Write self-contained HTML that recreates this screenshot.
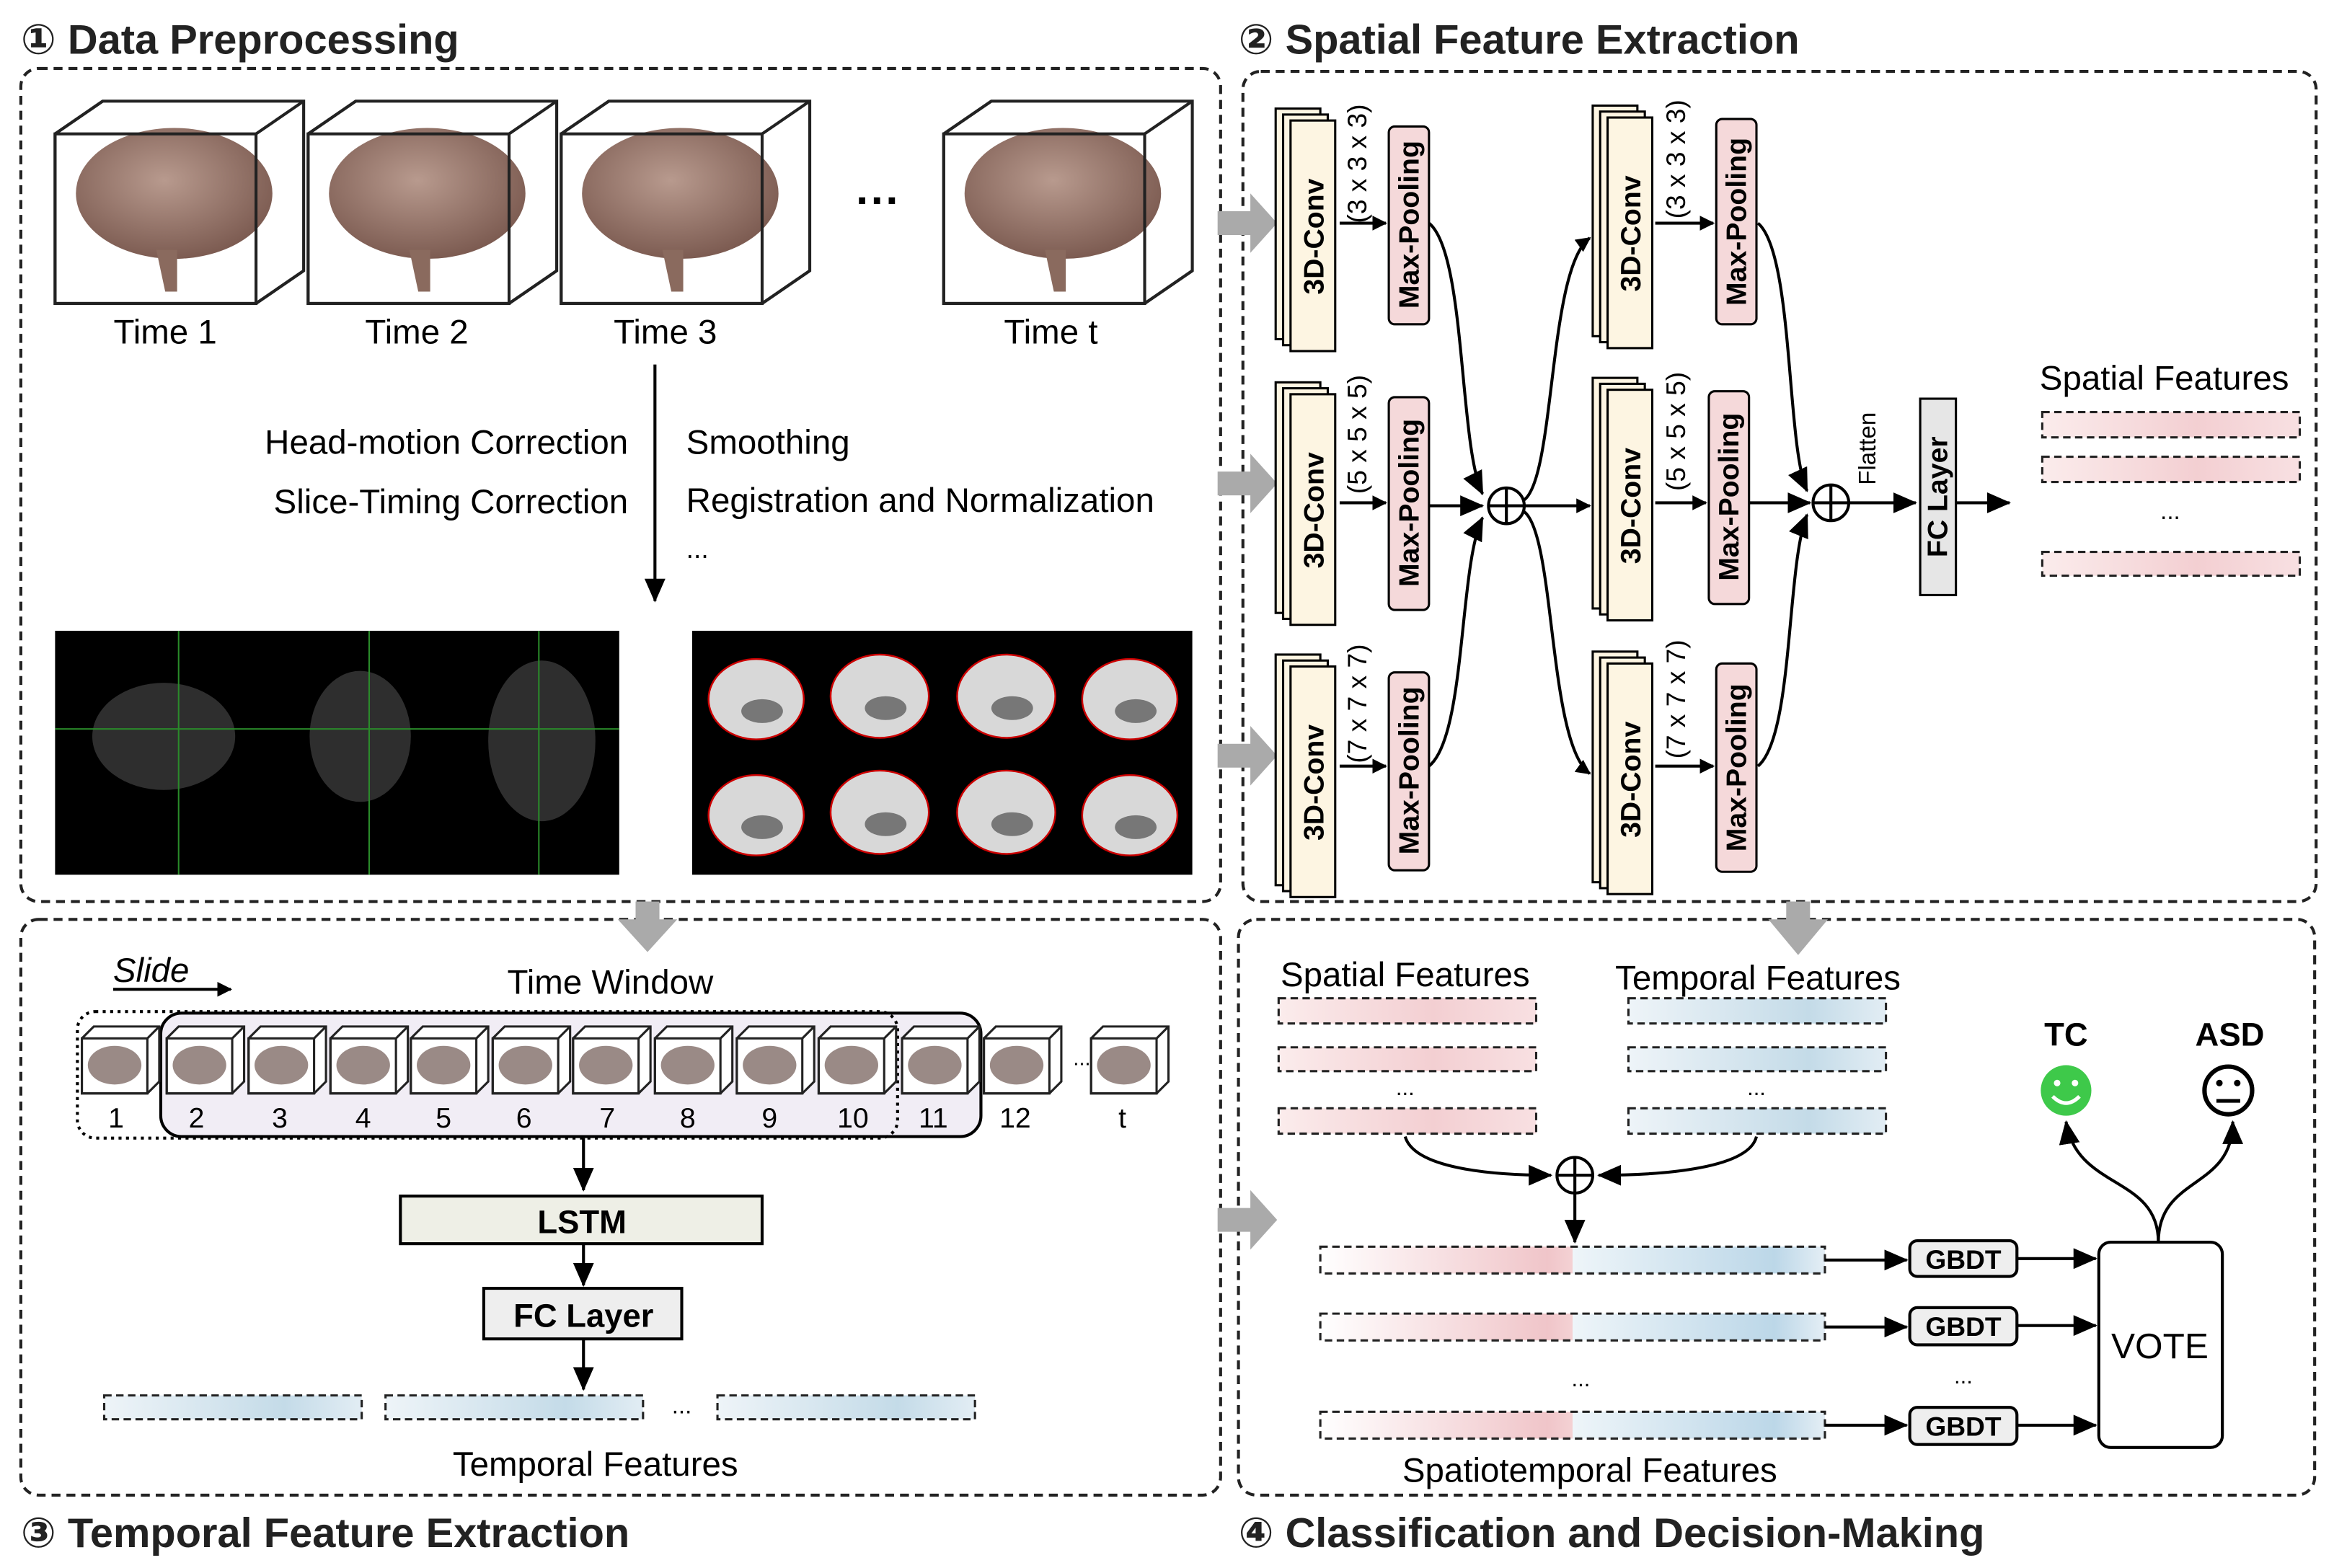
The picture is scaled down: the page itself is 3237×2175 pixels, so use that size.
<!DOCTYPE html>
<html><head><meta charset="utf-8"><style>html,body{margin:0;padding:0;background:#fff}svg{display:block}</style></head><body>
<svg width="3237" height="2175" viewBox="0 0 1568 1054" preserveAspectRatio="none" xmlns="http://www.w3.org/2000/svg" font-family="'Liberation Sans', 'DejaVu Sans', sans-serif">
<defs>
<marker id="ah" markerWidth="10" markerHeight="10" refX="9" refY="5" orient="auto" markerUnits="userSpaceOnUse"><path d="M0,0 L10,5 L0,10 z" fill="#000"/></marker>
<marker id="ab" markerWidth="16" markerHeight="14" refX="15" refY="7" orient="auto" markerUnits="userSpaceOnUse"><path d="M0,0 L16,7 L0,14 z" fill="#000"/></marker>
<linearGradient id="gp" x1="0" x2="1"><stop offset="0" stop-color="#fbecec"/><stop offset="0.6" stop-color="#f3cfd2"/><stop offset="1" stop-color="#f8e0e2"/></linearGradient>
<linearGradient id="gb" x1="0" x2="1"><stop offset="0" stop-color="#eef4f8"/><stop offset="0.7" stop-color="#c4dbe8"/><stop offset="1" stop-color="#e2edf4"/></linearGradient>
<linearGradient id="gc" x1="0" x2="1"><stop offset="0" stop-color="#fff"/><stop offset="0.45" stop-color="#f0c5c9"/><stop offset="0.5" stop-color="#f4d2d4"/><stop offset="0.5" stop-color="#eef5f9"/><stop offset="0.9" stop-color="#bcd7e8"/><stop offset="1" stop-color="#e4eef5"/></linearGradient>
<radialGradient id="br" cx="0.45" cy="0.4" r="0.6"><stop offset="0" stop-color="#b89a8e"/><stop offset="1" stop-color="#7d5c52"/></radialGradient>
<g id="cube"><path d="M0,22 L32,0 L167,0 L167,114 L135,136 L0,136 Z" fill="#fff" stroke="#222" stroke-width="2"/>
<ellipse cx="80" cy="62" rx="66" ry="44" fill="url(#br)"/><path d="M68,100 L74,128 L82,128 L82,100Z" fill="#8a6a5e"/>
<rect x="0" y="22" width="135" height="114" fill="none" stroke="#222" stroke-width="2"/>
<path d="M135,22 L167,0 M135,136 L167,114 M0,22 L32,0" stroke="#222" stroke-width="2"/></g>
<g id="sc"><path d="M0,8 L8,0 L52,0 L52,37 L44,45 L0,45Z" fill="#fff" stroke="#222" stroke-width="1.5"/>
<ellipse cx="22" cy="26" rx="18" ry="13" fill="#9a8a86"/><rect x="0" y="8" width="44" height="37" fill="none" stroke="#222" stroke-width="1.5"/><path d="M44,8 L52,0" stroke="#222" stroke-width="1.5"/></g>
<g id="conv"><rect x="0" y="0" width="30" height="155" fill="#fdf5e2" stroke="#000" stroke-width="1.5"/><rect x="5" y="4" width="30" height="155" fill="#fdf5e2" stroke="#000" stroke-width="1.5"/><rect x="10" y="8" width="30" height="155" fill="#fdf5e2" stroke="#000" stroke-width="1.5"/><text transform="translate(32,86) rotate(-90)" text-anchor="middle" font-size="19" font-weight="bold">3D-Conv</text></g>
</defs>
<g font-size="28" font-weight="bold" fill="#222">
<text x="14" y="36">① Data Preprocessing</text><text x="832" y="36">② Spatial Feature Extraction</text>
<text x="14" y="1040">③ Temporal Feature Extraction</text><text x="832" y="1040">④ Classification and Decision-Making</text></g>
<g fill="none" stroke="#222" stroke-width="2" stroke-dasharray="6,4">
<rect x="14" y="46" width="806" height="560" rx="12"/><rect x="835" y="48" width="721" height="558" rx="12"/>
<rect x="14" y="618" width="806" height="387" rx="12"/><rect x="832" y="618" width="723" height="387" rx="12"/></g>
<!-- panel1 -->
<use href="#cube" x="37" y="68"/><use href="#cube" x="207" y="68"/><use href="#cube" x="377" y="68"/><use href="#cube" x="634" y="68"/>
<text x="590" y="145" font-size="30" font-weight="bold" text-anchor="middle">···</text>
<g font-size="23" text-anchor="middle"><text x="111" y="231">Time 1</text><text x="280" y="231">Time 2</text><text x="447" y="231">Time 3</text><text x="706" y="231">Time t</text></g>
<line x1="440" y1="245" x2="440" y2="404" stroke="#000" stroke-width="2" marker-end="url(#ab)"/>
<g font-size="23"><text x="422" y="305" text-anchor="end">Head-motion Correction</text><text x="422" y="345" text-anchor="end">Slice-Timing Correction</text>
<text x="461" y="305">Smoothing</text><text x="461" y="344">Registration and Normalization</text><text x="461" y="375" font-size="18">...</text></g>
<rect x="37" y="424" width="379" height="164" fill="#000"/>
<g fill="#2e2e2e"><ellipse cx="110" cy="495" rx="48" ry="36"/><ellipse cx="242" cy="495" rx="34" ry="44"/><ellipse cx="364" cy="498" rx="36" ry="54"/></g>
<g stroke="#2a8a2a" stroke-width="1"><line x1="37" y1="490" x2="416" y2="490"/><line x1="120" y1="424" x2="120" y2="588"/><line x1="248" y1="424" x2="248" y2="588"/><line x1="362" y1="424" x2="362" y2="588"/></g>
<rect x="465" y="424" width="336" height="164" fill="#000"/>
<g fill="#d8d8d8" stroke="#c00" stroke-width="1.2"><ellipse cx="508" cy="470" rx="32" ry="27"/><ellipse cx="591" cy="468" rx="33" ry="28"/><ellipse cx="676" cy="468" rx="33" ry="28"/><ellipse cx="759" cy="470" rx="32" ry="27"/>
<ellipse cx="508" cy="548" rx="32" ry="27"/><ellipse cx="591" cy="546" rx="33" ry="28"/><ellipse cx="676" cy="546" rx="33" ry="28"/><ellipse cx="759" cy="548" rx="32" ry="27"/></g>
<g fill="#777"><ellipse cx="512" cy="478" rx="14" ry="8"/><ellipse cx="595" cy="476" rx="14" ry="8"/><ellipse cx="680" cy="476" rx="14" ry="8"/><ellipse cx="763" cy="478" rx="14" ry="8"/>
<ellipse cx="512" cy="556" rx="14" ry="8"/><ellipse cx="595" cy="554" rx="14" ry="8"/><ellipse cx="680" cy="554" rx="14" ry="8"/><ellipse cx="763" cy="556" rx="14" ry="8"/></g>
<!-- gray arrows -->
<g fill="#aaa"><path d="M818,142 h22 v-12 l18,20 l-18,20 v-12 h-22z"/><path d="M818,317 h22 v-12 l18,20 l-18,20 v-12 h-22z"/><path d="M818,500 h22 v-12 l18,20 l-18,20 v-12 h-22z"/><path d="M818,812 h22 v-12 l18,20 l-18,20 v-12 h-22z"/>
<path d="M427,606 v12 h-12 l20,22 l20,-22 h-12 v-12z"/><path d="M1200,606 v12 h-12 l20,24 l20,-24 h-12 v-12z"/></g>
<!-- panel2 -->
<use href="#conv" x="857" y="73"/><use href="#conv" x="857" y="257"/><use href="#conv" x="857" y="440"/>
<use href="#conv" x="1070" y="71"/><use href="#conv" x="1070" y="254"/><use href="#conv" x="1070" y="438"/>
<g font-size="18"><text transform="translate(918,150) rotate(-90)">(3 x 3 x 3)</text><text transform="translate(918,332) rotate(-90)">(5 x 5 x 5)</text><text transform="translate(918,513) rotate(-90)">(7 x 7 x 7)</text>
<text transform="translate(1132,147) rotate(-90)">(3 x 3 x 3)</text><text transform="translate(1132,330) rotate(-90)">(5 x 5 x 5)</text><text transform="translate(1132,510) rotate(-90)">(7 x 7 x 7)</text></g>
<g fill="#f5d9da" stroke="#000" stroke-width="1.5"><rect x="933" y="85" width="27" height="133" rx="4"/><rect x="933" y="267" width="27" height="143" rx="4"/><rect x="933" y="452" width="27" height="133" rx="4"/>
<rect x="1153" y="80" width="27" height="138" rx="4"/><rect x="1148" y="263" width="27" height="143" rx="4"/><rect x="1153" y="446" width="27" height="140" rx="4"/></g>
<g font-size="19" font-weight="bold" text-anchor="middle"><text transform="translate(953,151) rotate(-90)">Max-Pooling</text><text transform="translate(953,338) rotate(-90)">Max-Pooling</text><text transform="translate(953,518) rotate(-90)">Max-Pooling</text>
<text transform="translate(1173,149) rotate(-90)">Max-Pooling</text><text transform="translate(1168,334) rotate(-90)">Max-Pooling</text><text transform="translate(1173,516) rotate(-90)">Max-Pooling</text></g>
<g stroke="#000" stroke-width="2" fill="none">
<line x1="900" y1="150" x2="931" y2="150" marker-end="url(#ah)"/><line x1="900" y1="338" x2="931" y2="338" marker-end="url(#ah)"/><line x1="900" y1="515" x2="931" y2="515" marker-end="url(#ah)"/>
<line x1="1112" y1="150" x2="1151" y2="150" marker-end="url(#ah)"/><line x1="1112" y1="338" x2="1146" y2="338" marker-end="url(#ah)"/><line x1="1112" y1="515" x2="1151" y2="515" marker-end="url(#ah)"/>
<path d="M960,150 C985,170 980,300 996,332" marker-end="url(#ab)"/><line x1="960" y1="340" x2="996" y2="340" marker-end="url(#ab)"/><path d="M960,515 C985,495 980,380 996,348" marker-end="url(#ab)"/>
<circle cx="1012" cy="340" r="12"/><line x1="1000" y1="340" x2="1024" y2="340"/><line x1="1012" y1="328" x2="1012" y2="352"/>
<line x1="1024" y1="340" x2="1068" y2="340" marker-end="url(#ah)"/>
<path d="M1024,336 C1045,320 1040,180 1068,160" marker-end="url(#ah)"/><path d="M1024,344 C1045,360 1040,500 1068,520" marker-end="url(#ah)"/>
<path d="M1181,150 C1205,170 1200,300 1214,330" marker-end="url(#ab)"/><line x1="1175" y1="338" x2="1216" y2="338" marker-end="url(#ab)"/><path d="M1181,515 C1205,495 1200,380 1214,346" marker-end="url(#ab)"/>
<circle cx="1230" cy="338" r="12"/><line x1="1218" y1="338" x2="1242" y2="338"/><line x1="1230" y1="326" x2="1230" y2="350"/>
<line x1="1242" y1="338" x2="1287" y2="338" marker-end="url(#ab)"/><line x1="1314" y1="338" x2="1350" y2="338" marker-end="url(#ab)"/></g>
<text transform="translate(1260,326) rotate(-90)" font-size="16">Flatten</text>
<rect x="1290" y="268" width="24" height="132" fill="#e6e6e6" stroke="#000" stroke-width="1.5"/>
<text transform="translate(1308,334) rotate(-90)" text-anchor="middle" font-size="19" font-weight="bold">FC  Layer</text>
<text x="1454" y="262" font-size="23" text-anchor="middle">Spatial Features</text>
<g stroke="#222" stroke-width="1.5" stroke-dasharray="5,3"><rect x="1372" y="277" width="173" height="17" fill="url(#gp)"/><rect x="1372" y="307" width="173" height="17" fill="url(#gp)"/><rect x="1372" y="371" width="173" height="16" fill="url(#gp)"/></g>
<text x="1458" y="349" font-size="16" text-anchor="middle">...</text>
<!-- panel3 -->
<rect x="108" y="681" width="551" height="83" rx="14" fill="#f1edf5" stroke="#000" stroke-width="2"/>
<rect x="52" y="680" width="551" height="85" rx="12" fill="none" stroke="#000" stroke-width="2" stroke-dasharray="2,3"/>
<text x="76" y="660" font-size="23" font-style="italic">Slide</text><line x1="76" y1="665" x2="155" y2="665" stroke="#000" stroke-width="2" marker-end="url(#ah)"/>
<text x="410" y="668" font-size="23" text-anchor="middle">Time Window</text>
<g><use href="#sc" x="55" y="690"/><use href="#sc" x="112" y="690"/><use href="#sc" x="167" y="690"/><use href="#sc" x="222" y="690"/><use href="#sc" x="276" y="690"/><use href="#sc" x="331" y="690"/><use href="#sc" x="385" y="690"/><use href="#sc" x="440" y="690"/><use href="#sc" x="495" y="690"/><use href="#sc" x="550" y="690"/><use href="#sc" x="606" y="690"/><use href="#sc" x="661" y="690"/><use href="#sc" x="733" y="690"/></g>
<text x="721" y="716" font-size="14">...</text>
<g font-size="19" text-anchor="middle"><text x="78" y="758">1</text><text x="132" y="758">2</text><text x="188" y="758">3</text><text x="244" y="758">4</text><text x="298" y="758">5</text><text x="352" y="758">6</text><text x="408" y="758">7</text><text x="462" y="758">8</text><text x="517" y="758">9</text><text x="573" y="758">10</text><text x="627" y="758">11</text><text x="682" y="758">12</text><text x="754" y="758">t</text></g>
<g stroke="#000" stroke-width="2"><line x1="392" y1="765" x2="392" y2="800" marker-end="url(#ab)"/><line x1="392" y1="836" x2="392" y2="864" marker-end="url(#ab)"/><line x1="392" y1="900" x2="392" y2="934" marker-end="url(#ab)"/></g>
<rect x="269" y="804" width="243" height="32" fill="#eeefe6" stroke="#000" stroke-width="2"/><text x="391" y="829" font-size="22" font-weight="bold" text-anchor="middle">LSTM</text>
<rect x="325" y="866" width="133" height="34" fill="#eeeeee" stroke="#000" stroke-width="2"/><text x="392" y="892" font-size="22" font-weight="bold" text-anchor="middle">FC  Layer</text>
<g stroke="#222" stroke-width="1.5" stroke-dasharray="5,3" fill="url(#gb)"><rect x="70" y="938" width="173" height="16"/><rect x="259" y="938" width="173" height="16"/><rect x="482" y="938" width="173" height="16"/></g>
<text x="458" y="950" font-size="16" text-anchor="middle">...</text>
<text x="400" y="992" font-size="23" text-anchor="middle">Temporal Features</text>
<!-- panel4 -->
<g font-size="23" text-anchor="middle"><text x="944" y="663">Spatial Features</text><text x="1181" y="665">Temporal Features</text><text x="1068" y="996">Spatiotemporal Features</text></g>
<g stroke="#222" stroke-width="1.5" stroke-dasharray="5,3"><rect x="859" y="671" width="173" height="17" fill="url(#gp)"/><rect x="859" y="704" width="173" height="16" fill="url(#gp)"/><rect x="859" y="745" width="173" height="17" fill="url(#gp)"/>
<rect x="1094" y="671" width="173" height="17" fill="url(#gb)"/><rect x="1094" y="704" width="173" height="16" fill="url(#gb)"/><rect x="1094" y="745" width="173" height="17" fill="url(#gb)"/>
<rect x="887" y="838" width="339" height="18" fill="url(#gc)"/><rect x="887" y="883" width="339" height="18" fill="url(#gc)"/><rect x="887" y="949" width="339" height="18" fill="url(#gc)"/></g>
<g font-size="15" text-anchor="middle"><text x="944" y="736">...</text><text x="1180" y="736">...</text><text x="1062" y="932">...</text><text x="1319" y="930">...</text></g>
<g stroke="#000" stroke-width="2" fill="none">
<path d="M944,764 C950,785 1000,790 1042,790" marker-end="url(#ab)"/><path d="M1180,764 C1175,785 1120,790 1074,790" marker-end="url(#ab)"/>
<circle cx="1058" cy="790" r="12"/><line x1="1046" y1="790" x2="1070" y2="790"/><line x1="1058" y1="778" x2="1058" y2="802"/>
<line x1="1058" y1="802" x2="1058" y2="835" marker-end="url(#ab)"/>
<line x1="1226" y1="847" x2="1281" y2="847" marker-end="url(#ab)"/><line x1="1226" y1="892" x2="1281" y2="892" marker-end="url(#ab)"/><line x1="1226" y1="958" x2="1281" y2="958" marker-end="url(#ab)"/>
<line x1="1355" y1="846" x2="1408" y2="846" marker-end="url(#ab)"/><line x1="1355" y1="891" x2="1408" y2="891" marker-end="url(#ab)"/><line x1="1355" y1="958" x2="1408" y2="958" marker-end="url(#ab)"/>
<path d="M1450,835 C1450,790 1395,800 1388,754" marker-end="url(#ab)"/><path d="M1450,835 C1450,790 1500,800 1500,754" marker-end="url(#ab)"/></g>
<g fill="#eee" stroke="#000" stroke-width="2"><rect x="1283" y="834" width="72" height="24" rx="5"/><rect x="1283" y="879" width="72" height="25" rx="5"/><rect x="1283" y="946" width="72" height="25" rx="5"/></g>
<g font-size="18" font-weight="bold" text-anchor="middle"><text x="1319" y="853">GBDT</text><text x="1319" y="898">GBDT</text><text x="1319" y="965">GBDT</text></g>
<rect x="1410" y="835" width="83" height="138" rx="8" fill="#fff" stroke="#000" stroke-width="2"/>
<text x="1451" y="913" font-size="24" text-anchor="middle">VOTE</text>
<g font-size="22" font-weight="bold" text-anchor="middle"><text x="1388" y="703">TC</text><text x="1498" y="703">ASD</text></g>
<circle cx="1388" cy="733" r="17" fill="#3ec94a"/><circle cx="1382" cy="728" r="2.2" fill="#fff"/><circle cx="1394" cy="728" r="2.2" fill="#fff"/><path d="M1379,737 Q1388,746 1397,737" stroke="#fff" stroke-width="2.5" fill="none"/>
<circle cx="1497" cy="733" r="16" fill="none" stroke="#000" stroke-width="3"/><circle cx="1491" cy="728" r="2.2"/><circle cx="1503" cy="728" r="2.2"/><line x1="1489" y1="740" x2="1505" y2="740" stroke="#000" stroke-width="2.5"/>
</svg>
</body></html>
